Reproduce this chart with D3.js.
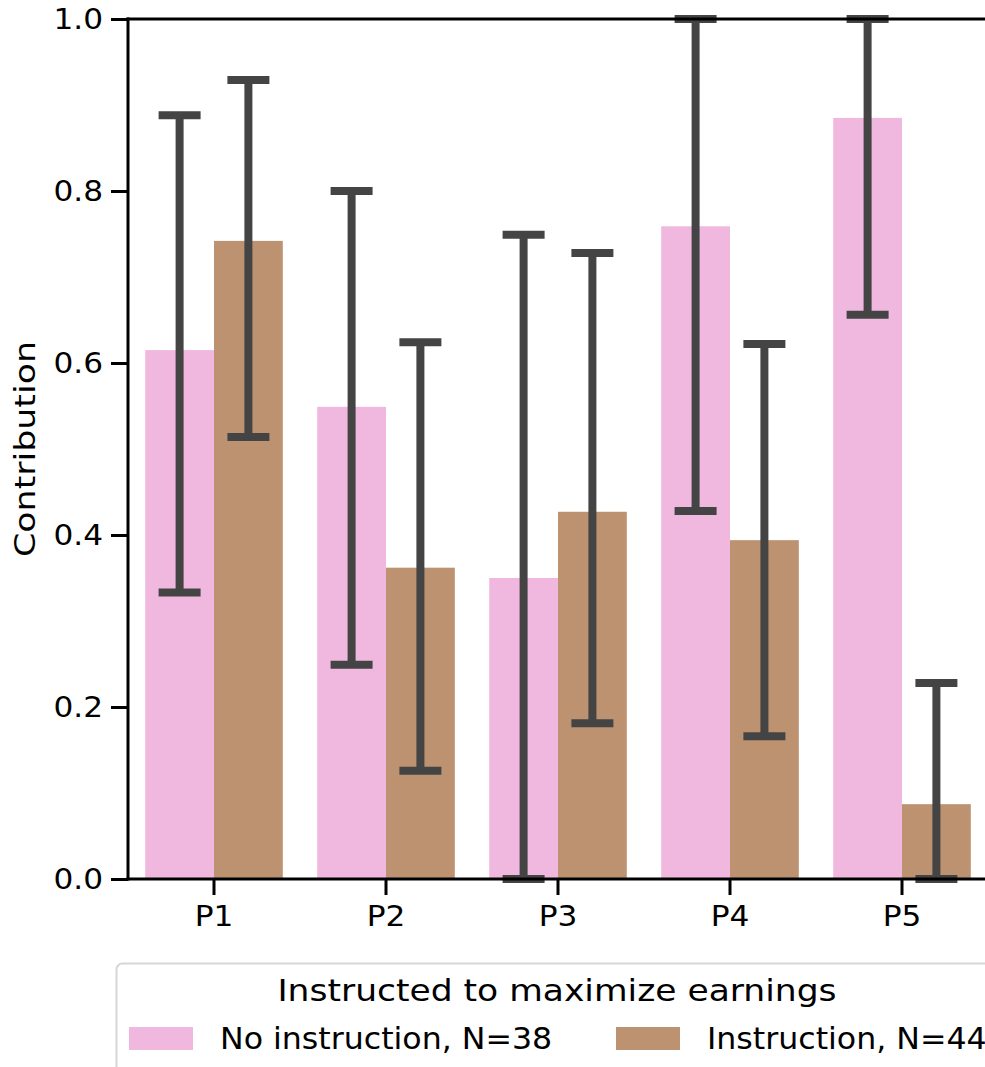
<!DOCTYPE html>
<html>
<head>
<meta charset="utf-8">
<script src="https://cdn.jsdelivr.net/npm/d3@7"></script>
<style>
  html, body { margin: 0; padding: 0; background: #fff; }
  svg { display: block; font-family: "DejaVu Sans", sans-serif; }
</style>
</head>
<body>
<svg id="chart" width="985" height="1067"></svg>
<script>
// Periods on the x axis
const categories = ["P1", "P2", "P3", "P4", "P5"];
// Groups (hue) and legend labels
const groups = ["No instruction, N=38", "Instruction, N=44"];
const groupColors = ["#f0b8de", "#bc9270"];
// Mean contribution per period
const noInstruction = [0.615, 0.549, 0.350, 0.759, 0.885];
const instruction = [0.742, 0.362, 0.427, 0.394, 0.087];
// Confidence interval bounds
const noInstructionLow = [0.333, 0.249, 0.000, 0.428, 0.656];
const noInstructionHigh = [0.888, 0.800, 0.749, 1.000, 1.000];
const instructionLow = [0.514, 0.126, 0.181, 0.166, 0.000];
const instructionHigh = [0.929, 0.624, 0.728, 0.622, 0.228];
const yTicks = [0.0, 0.2, 0.4, 0.6, 0.8, 1.0];

const seriesMeans = [noInstruction, instruction];
const seriesLow = [noInstructionLow, instructionLow];
const seriesHigh = [noInstructionHigh, instructionHigh];

const svg = d3.select("#chart");
const plotLeft = 128, plotRight = 988, plotTop = 19, plotBottom = 879;

// Widen text horizontally by a factor (glyphs drawn slightly wide)
function widen(sel, k) {
  sel.each(function () {
    const w = this.getComputedTextLength();
    d3.select(this).attr("textLength", w * k).attr("lengthAdjust", "spacingAndGlyphs");
  });
}

const x = d3.scaleBand().domain(categories).range([plotLeft, plotRight]).paddingInner(0).paddingOuter(0);
const inner = d3.scaleBand().domain(d3.range(groups.length))
  .range([0, x.bandwidth() * 0.8]);
const y = d3.scaleLinear().domain([0, 1]).range([plotBottom, plotTop]);

const rows = [];
categories.forEach((c, i) => {
  groups.forEach((g, j) => {
    rows.push({cat: c, g: j, v: seriesMeans[j][i], lo: seriesLow[j][i], hi: seriesHigh[j][i]});
  });
});
const barX = d => x(d.cat) + x.bandwidth() * 0.1 + inner(d.g);

// Bars
svg.append("g").selectAll("rect").data(rows).join("rect")
  .attr("x", barX)
  .attr("y", d => y(d.v))
  .attr("width", inner.bandwidth())
  .attr("height", d => y(0) - y(d.v))
  .attr("fill", d => groupColors[d.g]);

// Error bars with caps
const errColor = "#444444";
const capW = 42;
const eb = svg.append("g").attr("stroke", errColor).attr("stroke-width", 8);
rows.forEach(d => {
  const cx = barX(d) + inner.bandwidth() / 2;
  eb.append("line").attr("x1", cx).attr("x2", cx).attr("y1", y(d.lo)).attr("y2", y(d.hi));
  eb.append("line").attr("x1", cx - capW / 2).attr("x2", cx + capW / 2).attr("y1", y(d.hi)).attr("y2", y(d.hi));
  eb.append("line").attr("x1", cx - capW / 2).attr("x2", cx + capW / 2).attr("y1", y(d.lo)).attr("y2", y(d.lo));
});

// Axes
const yAxis = d3.axisLeft(y).tickValues(yTicks).tickFormat(d3.format(".1f")).tickSize(17).tickPadding(8);
const gy = svg.append("g").attr("transform", `translate(${plotLeft},0)`).call(yAxis);
const xAxis = d3.axisBottom(x).tickSize(16).tickPadding(10);
const gx = svg.append("g").attr("transform", `translate(0,${plotBottom})`).call(xAxis);
[gy, gx].forEach(g => {
  g.select(".domain").remove();
  g.selectAll(".tick line").attr("stroke", "#000").attr("stroke-width", 3);
  g.selectAll(".tick text").attr("fill", "#000").style("font-size", "29px")
    .style("font-family", "DejaVu Sans, sans-serif");
  widen(g.selectAll(".tick text"), 1.075);
});

// Spines (left, bottom, top)
const sp = svg.append("g").attr("stroke", "#000").attr("stroke-width", 3).attr("stroke-linecap", "square");
sp.append("line").attr("x1", plotLeft).attr("x2", plotLeft).attr("y1", plotTop).attr("y2", plotBottom);
sp.append("line").attr("x1", plotLeft).attr("x2", plotRight).attr("y1", plotBottom).attr("y2", plotBottom);
sp.append("line").attr("x1", plotLeft).attr("x2", plotRight).attr("y1", plotTop).attr("y2", plotTop);

// Y label
const yl = svg.append("text")
  .attr("transform", `translate(35,${(plotTop + plotBottom) / 2}) rotate(-90)`)
  .attr("text-anchor", "middle")
  .style("font-size", "28.5px")
  .text("Contribution");
widen(yl, 1.22);

// Legend
const lg = svg.append("g");
lg.append("rect").attr("x", 116.5).attr("y", 963.5).attr("width", 900).attr("height", 200)
  .attr("rx", 6).attr("fill", "#fff").attr("stroke", "#d6d6d6").attr("stroke-width", 2);
const lt = lg.append("text").attr("x", 557).attr("y", 1001).attr("text-anchor", "middle")
  .style("font-size", "30px").text("Instructed to maximize earnings");
widen(lt, 1.15);
const legX = [129, 616];
groups.forEach((g, j) => {
  lg.append("rect").attr("x", legX[j]).attr("y", 1027).attr("width", 64).attr("height", 23)
    .attr("fill", groupColors[j]);
  const t = lg.append("text").attr("x", legX[j] + 91).attr("y", 1049)
    .style("font-size", "29.7px").text(g);
  widen(t, 1.065);
});
</script>
</body>
</html>
